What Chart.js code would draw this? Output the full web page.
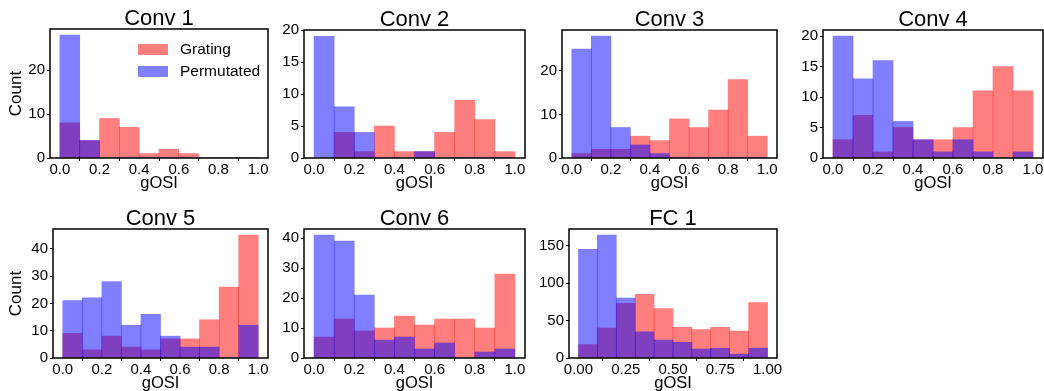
<!DOCTYPE html>
<html><head><meta charset="utf-8">
<script src="https://cdn.jsdelivr.net/npm/chart.js@4/dist/chart.umd.min.js"></script>
<style>
html,body{margin:0;padding:0;background:#fff;width:1044px;height:391px;overflow:hidden;position:relative}
canvas{position:absolute}
</style></head><body>
<script>
// ---------- data ----------
const panelTitles = ['Conv 1','Conv 2','Conv 3','Conv 4','Conv 5','Conv 6','FC 1'];
const seriesNames = ['Grating','Permutated'];
const binCenters = [0.05,0.15,0.25,0.35,0.45,0.55,0.65,0.75,0.85,0.95];

const gratingConv1 = [8,4,9,7,1,2,1,0,0,0];
const permConv1    = [28,4,0,0,0,0,0,0,0,0];
const gratingConv2 = [0,4,1,5,1,1,4,9,6,1];
const permConv2    = [19,8,4,0,0,1,0,0,0,0];
const gratingConv3 = [1,2,2,5,4,9,7,11,18,5];
const permConv3    = [25,28,7,3,1,0,0,0,0,0];
const gratingConv4 = [3,7,1,5,3,3,5,11,15,11];
const permConv4    = [20,13,16,6,3,1,3,1,0,1];
const gratingConv5 = [9,3,8,4,3,7,7,14,26,45];
const permConv5    = [21,22,28,12,16,8,4,4,0,12];
const gratingConv6 = [7,13,9,10,14,11,13,13,10,28];
const permConv6    = [41,39,21,6,7,3,5,0,2,3];
const gratingFC1   = [18,40,73,85,66,41,38,41,36,74];
const permFC1      = [145,164,80,35,24,21,12,13,5,13];

const yTicksConv1 = [0,10,20];
const yTicksConv2 = [0,5,10,15,20];
const yTicksConv3 = [0,10,20];
const yTicksConv4 = [0,5,10,15,20];
const yTicksConv5 = [0,10,20,30,40];
const yTicksConv6 = [0,10,20,30,40];
const yTicksFC1   = [0,50,100,150];
const yMaxes = [29.4,20,29.4,21,47.25,43.05,172.2];

const xTicksConv = [0,0.2,0.4,0.6,0.8,1.0];
const xTickLabelsConv = ['0.0','0.2','0.4','0.6','0.8','1.0'];
const xTicksFC = [0,0.25,0.5,0.75,1.0];
const xTickLabelsFC = ['0.00','0.25','0.50','0.75','1.00'];

const gratingSets = [gratingConv1,gratingConv2,gratingConv3,gratingConv4,gratingConv5,gratingConv6,gratingFC1];
const permSets = [permConv1,permConv2,permConv3,permConv4,permConv5,permConv6,permFC1];
const yTickSets = [yTicksConv1,yTicksConv2,yTicksConv3,yTicksConv4,yTicksConv5,yTicksConv6,yTicksFC1];

// ---------- layout ----------
const boxes = [
  [50,29,268,158],[304,30,525,158],[562,30,777,158],[823,30,1043,158],
  [53,229,268,358],[304,229,525,358],[569,229,777,358]
];
const showCount = [true,false,false,false,true,false,false];
const showLegend = [true,false,false,false,false,false,false];
const FONT = "'Liberation Sans', Arial, sans-serif";
const RED = 'rgba(255,0,0,0.5)';
const BLUE = 'rgba(0,0,255,0.5)';
const LEFT = 55, TOP = 30, RIGHT = 18, BOTTOM = 50;

const framePlugin = {
  id: 'frame',
  afterDatasetsDraw(chart, args, opts) {
    const {ctx, chartArea: a} = chart;
    ctx.save();
    ctx.strokeStyle = '#000';
    ctx.lineWidth = 1.5;
    ctx.strokeRect(a.left, a.top, a.right - a.left, a.bottom - a.top);
    if (opts && opts.legend) {
      const cols = [RED, BLUE];
      ctx.font = "15.5px " + FONT;
      ctx.textBaseline = 'middle';
      ctx.textAlign = 'left';
      for (let i = 0; i < seriesNames.length; i++) {
        const y = a.top + 15 + i * 22;
        ctx.fillStyle = cols[i];
        ctx.fillRect(a.left + 88, y, 30, 11);
        ctx.fillStyle = '#000';
        ctx.fillText(seriesNames[i], a.left + 130, y + 6);
      }
    }
    ctx.restore();
  }
};

panelTitles.forEach((title, p) => {
  const [l, t, r, b] = boxes[p];
  const cv = document.createElement('canvas');
  const W = (r - l) + LEFT + RIGHT, H = (b - t) + TOP + BOTTOM;
  cv.width = W; cv.height = H;
  cv.style.left = (l - LEFT) + 'px';
  cv.style.top = (t - TOP) + 'px';
  cv.style.width = W + 'px'; cv.style.height = H + 'px';
  document.body.appendChild(cv);
  const isFC = p === 6;
  const xt = isFC ? xTicksFC : xTicksConv;
  const xl = isFC ? xTickLabelsFC : xTickLabelsConv;
  const yt = yTickSets[p];
  new Chart(cv, {
    type: 'bar',
    data: {
      datasets: [
        {label: seriesNames[0], data: gratingSets[p].map((v, i) => ({x: binCenters[i], y: v})),
         backgroundColor: RED, borderWidth: 0, order: 2},
        {label: seriesNames[1], data: permSets[p].map((v, i) => ({x: binCenters[i], y: v})),
         backgroundColor: BLUE, borderWidth: 0, order: 1}
      ]
    },
    options: {
      responsive: false, animation: false, devicePixelRatio: 1,
      layout: {padding: {left: 0, right: RIGHT, top: 0, bottom: 0}},
      datasets: {bar: {grouped: false, barPercentage: 1, categoryPercentage: 1}},
      plugins: {
        legend: {display: false}, tooltip: {enabled: false},
        title: {display: true, text: title, fullSize: false, color: '#000',
                font: {family: FONT, size: 22, weight: 'normal', lineHeight: 0.9},
                padding: {top: 10.1, bottom: 0.1}},
        frame: {legend: showLegend[p]}
      },
      scales: {
        x: {
          type: 'linear', min: -0.05, max: 1.05, offset: false,
          border: {display: false},
          grid: {display: true, drawOnChartArea: false, drawTicks: true, tickLength: 3, tickWidth: 1, tickColor: '#000'},
          ticks: {color: '#000', padding: 1, maxRotation: 0, autoSkip: false,
                  font: {family: FONT, size: 15, lineHeight: 1},
                  callback: (v, i) => xl[i]},
          title: {display: true, text: 'gOSI', color: '#000',
                  font: {family: FONT, size: 16.5, lineHeight: 1}, padding: {top: 0, bottom: 16.5}},
          afterBuildTicks: s => { s.ticks = xt.map(v => ({value: v})); },
          afterFit: s => { s.height = BOTTOM; }
        },
        y: {
          min: 0, max: yMaxes[p],
          border: {display: false},
          grid: {display: true, drawOnChartArea: false, drawTicks: true, tickLength: 3, tickWidth: 1, tickColor: '#000'},
          ticks: {color: '#000', padding: 2, font: {family: FONT, size: 15, lineHeight: 1},
                  callback: v => String(v)},
          title: {display: showCount[p], text: 'Count', color: '#000',
                  font: {family: FONT, size: 17, lineHeight: 1}, padding: {top: 7.5 - (l - LEFT), bottom: 0}},
          afterBuildTicks: s => { s.ticks = yt.map(v => ({value: v})); },
          afterFit: s => { s.width = LEFT; }
        }
      }
    },
    plugins: [framePlugin]
  });
});
</script>
</body></html>
